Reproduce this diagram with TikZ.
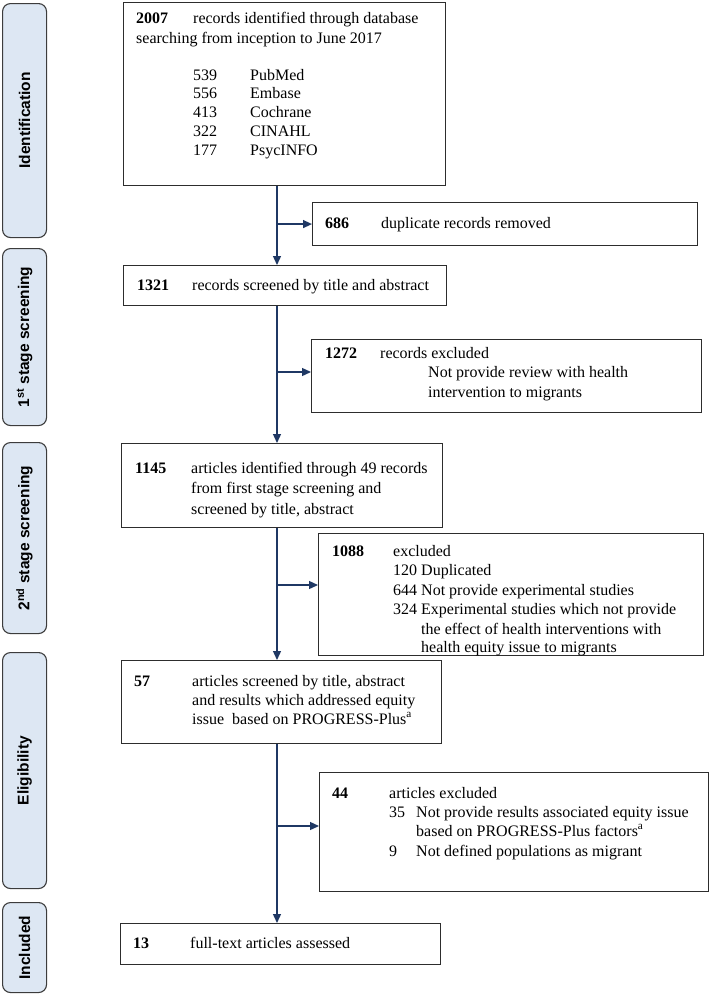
\documentclass[tikz,border=0pt]{standalone}
\usepackage{fontspec}
\setmainfont{Liberation Serif}
\newfontfamily\lblfont{Liberation Sans}
\usetikzlibrary{arrows.meta}
\definecolor{lblfill}{RGB}{221,231,243}
\definecolor{lbldraw}{RGB}{60,60,60}
\definecolor{arrowc}{RGB}{31,56,100}
\definecolor{boxdraw}{RGB}{45,45,45}
\tikzset{
  stagebox/.style={draw=lbldraw, fill=lblfill, rounded corners=8pt, line width=1.1pt, rectangle, inner sep=0pt, anchor=north west},
  flowbox/.style={draw=boxdraw, fill=white, line width=1.1pt, rectangle, inner sep=0pt, anchor=north west},
  txt/.style={anchor=base west, inner sep=0pt, font=\fontsize{16}{19.5}\selectfont},
  num/.style={anchor=base west, inner sep=0pt, font=\fontsize{16}{19.5}\selectfont\bfseries},
  lbl/.style={rotate=90, inner sep=0pt, font=\lblfont\bfseries\fontsize{15.5}{18}\selectfont},
  arr/.style={draw=arrowc, line width=1.3pt, -{Triangle[length=9pt,width=8pt]}},
}
\begin{document}
\begin{tikzpicture}[x=1pt,y=-1pt]
\useasboundingbox (0,0) rectangle (709,994);

% stage labels
\node[stagebox, minimum width=44pt, minimum height=234pt] (sIdent) at (2,3) {};
\node[lbl] (lIdent) at (sIdent.center) {Identification};
\node[stagebox, minimum width=44pt, minimum height=177pt] (sFirst) at (2,248) {};
\node[lbl] (lFirst) at (sFirst.center) {1\textsuperscript{st} stage screening};
\node[stagebox, minimum width=44pt, minimum height=191pt] (sSecond) at (2,442) {};
\node[lbl] (lSecond) at (sSecond.center) {2\textsuperscript{nd} stage screening};
\node[stagebox, minimum width=44pt, minimum height=236pt] (sElig) at (2,652) {};
\node[lbl] (lElig) at (sElig.center) {Eligibility};
\node[stagebox, minimum width=44pt, minimum height=90pt] (sIncl) at (2,902) {};
\node[lbl] (lIncl) at (sIncl.center) {Included};

% flow boxes
\node[flowbox, minimum width=322pt, minimum height=183pt] (b2007) at (123,2) {};
\node[flowbox, minimum width=385pt, minimum height=43pt] (b686) at (312,202) {};
\node[flowbox, minimum width=323pt, minimum height=40pt] (b1321) at (123,265) {};
\node[flowbox, minimum width=390pt, minimum height=73pt] (b1272) at (311,339) {};
\node[flowbox, minimum width=321pt, minimum height=84pt] (b1145) at (121,443) {};
\node[flowbox, minimum width=385pt, minimum height=122pt] (b1088) at (318,533) {};
\node[flowbox, minimum width=320pt, minimum height=83pt] (b57) at (121,660) {};
\node[flowbox, minimum width=389pt, minimum height=119pt] (b44) at (319,772) {};
\node[flowbox, minimum width=320pt, minimum height=41pt] (b13) at (120,923) {};

% texts
\node[num] (n2007) at (136,23) {2007};
\node[txt] (t2007a) at (193,23) {records identified through database};
\node[txt] (t2007b) at (136,43) {searching from inception to June 2017};
\node[txt] (n539) at (193,80) {539};
\node[txt] (d539) at (250,80) {PubMed};
\node[txt] (n556) at (193,98.75) {556};
\node[txt] (d556) at (250,98.75) {Embase};
\node[txt] (n413) at (193,117.5) {413};
\node[txt] (d413) at (250,117.5) {Cochrane};
\node[txt] (n322) at (193,136.25) {322};
\node[txt] (d322) at (250,136.25) {CINAHL};
\node[txt] (n177) at (193,155) {177};
\node[txt] (d177) at (250,155) {PsycINFO};

\node[num] (n686) at (325,228) {686};
\node[txt] (t686) at (381,228) {duplicate records removed};

\node[num] (n1321) at (137,290) {1321};
\node[txt] (t1321) at (192,290) {records screened by title and abstract};

\node[num] (n1272) at (325,358) {1272};
\node[txt] (t1272a) at (380,358) {records excluded};
\node[txt] (t1272b) at (428,377.5) {Not provide review with health};
\node[txt] (t1272c) at (428,397) {intervention to migrants};

\node[num] (n1145) at (135,473) {1145};
\node[txt] (t1145a) at (191,473) {articles identified through 49 records};
\node[txt] (t1145b) at (191,493.5) {from first stage screening and};
\node[txt] (t1145c) at (191,514) {screened by title, abstract};

\node[num] (n1088) at (332,556) {1088};
\node[txt] (t1088a) at (393,556) {excluded};
\node[txt] (t1088b) at (393,575.5) {120 Duplicated};
\node[txt] (t1088c) at (393,595) {644 Not provide experimental studies};
\node[txt] (t1088d) at (393,614.5) {324 Experimental studies which not provide};
\node[txt] (t1088e) at (421,634) {the effect of health interventions with};
\node[txt] (t1088f) at (421,652) {health equity issue to migrants};

\node[num] (n57) at (134,686) {57};
\node[txt] (t57a) at (192,686) {articles screened by title, abstract};
\node[txt] (t57b) at (192,705) {and results which addressed equity};
\node[txt] (t57c) at (192,724) {issue\ \ based on PROGRESS-Plus\textsuperscript{a}};

\node[num] (n44) at (332,798) {44};
\node[txt] (t44a) at (389,798) {articles excluded};
\node[txt] (n35) at (389,817) {35};
\node[txt] (t35a) at (416,817) {Not provide results associated equity issue};
\node[txt] (t35b) at (416,836) {based on PROGRESS-Plus factors\textsuperscript{a}};
\node[txt] (n9) at (389,856) {9};
\node[txt] (t9) at (416,856) {Not defined populations as migrant};

\node[num] (n13) at (133,948) {13};
\node[txt] (t13) at (190,948) {full-text articles assessed};

% connectors
\coordinate (sp) at (277,0);
\coordinate (j1272) at (0,372);
\coordinate (j1088) at (0,585);
\coordinate (j44) at (0,826);
\draw[arr] (b2007.south -| sp) -- (b1321.north -| sp);
\draw[arr] (sp |- b686.west) -- (b686.west);
\draw[arr] (b1321.south -| sp) -- (b1145.north -| sp);
\draw[arr] (sp |- j1272) -- (b1272.west |- j1272);
\draw[arr] (b1145.south -| sp) -- (b57.north -| sp);
\draw[arr] (sp |- j1088) -- (b1088.west |- j1088);
\draw[arr] (b57.south -| sp) -- (b13.north -| sp);
\draw[arr] (sp |- j44) -- (b44.west |- j44);
\end{tikzpicture}
\end{document}
